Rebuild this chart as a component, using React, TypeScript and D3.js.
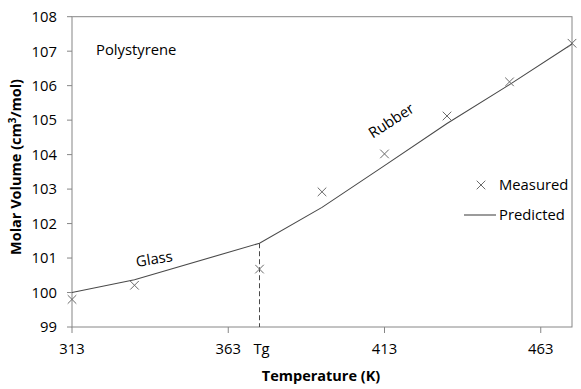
import React from "react";
import * as d3 from "d3";

const measuredT = [313, 333, 373, 393, 413, 433, 453, 473];
const measuredV = [99.8, 100.21, 100.68, 102.92, 104.02, 105.12, 106.11, 107.23];
const predictedT = [313, 333, 373, 393, 413, 433, 453, 473];
const predictedV = [100.0, 100.37, 101.43, 102.47, 103.68, 104.9, 106.03, 107.21];
const xTicks = [313, 363, 413, 463];
const yTicks = [99, 100, 101, 102, 103, 104, 105, 106, 107, 108];
const Tg = 373;
const TgLabel = "Tg";

const W = 581;
const H = 389;
const FONT = "'Open Sans', sans-serif";
const FS = 14.8;
const FSB = 14.5;

export default function App() {
  const x = d3.scaleLinear().domain([313, 473]).range([72, 572]);
  const y = d3.scaleLinear().domain([99, 108]).range([327, 16.7]);
  const [x0, x1] = x.range();
  const [y0, y1] = y.range();
  const axisColor = "#868686";
  const lineColor = "#4a4a4a";
  const markColor = "#6a6a6a";

  const line = d3
    .line<number>()
    .x((_, i) => x(predictedT[i]))
    .y((d) => y(d));
  const tgV = predictedV[predictedT.indexOf(Tg)];

  const cross = (cx: number, cy: number, s = 4.3) =>
    `M${cx - s},${cy - s}L${cx + s},${cy + s}M${cx - s},${cy + s}L${cx + s},${cy - s}`;

  return (
    <svg
      width={W}
      height={H}
      style={{ position: "absolute", left: 0, top: 0, background: "#fff" }}
      fontFamily={FONT}
    >
      <rect x={0} y={0} width={W} height={H} fill="#fff" />
      <rect x={x0} y={y1} width={x1 - x0} height={y0 - y1} fill="none" stroke={axisColor} strokeWidth={1} />
      {yTicks.map((t) => (
        <g key={"y" + t}>
          <line x1={x0 - 5} x2={x0} y1={y(t)} y2={y(t)} stroke={axisColor} />
          <text x={57} y={y(t)} dy="0.36em" textAnchor="end" fontSize={FS} fill="#000">
            {t}
          </text>
        </g>
      ))}
      {xTicks.map((t) => (
        <g key={"x" + t}>
          <line x1={x(t)} x2={x(t)} y1={y0} y2={y0 + 6} stroke={axisColor} />
          <text x={x(t)} y={354} textAnchor="middle" fontSize={FS} fill="#000">
            {t}
          </text>
        </g>
      ))}
      <text x={x(Tg) + 2} y={354} textAnchor="middle" fontSize={FS} fill="#000">
        {TgLabel}
      </text>
      <line
        x1={x(Tg)}
        x2={x(Tg)}
        y1={y(tgV)}
        y2={y0}
        stroke={lineColor}
        strokeWidth={1}
        strokeDasharray="5,3"
      />
      <path d={line(predictedV) || ""} fill="none" stroke={lineColor} strokeWidth={1.1} />
      {measuredV.map((v, i) => (
        <path key={"m" + i} d={cross(x(measuredT[i]), y(v))} stroke={markColor} strokeWidth={1} fill="none" />
      ))}
      <text x={96} y={55} fontSize={FS} fill="#000">
        Polystyrene
      </text>
      <text x={0} y={0} fontSize={FS} fill="#000" textAnchor="middle" transform={`translate(155,264) rotate(-9)`}>
        Glass
      </text>
      <text x={0} y={0} fontSize={FS} fill="#000" textAnchor="middle" transform={`translate(394,125) rotate(-33)`}>
        Rubber
      </text>
      <path d={cross(481, 185, 4.3)} stroke={markColor} strokeWidth={1} fill="none" />
      <text x={499} y={190} fontSize={FS} fill="#000">
        Measured
      </text>
      <line x1={464} x2={496} y1={215} y2={215} stroke={lineColor} strokeWidth={1.1} />
      <text x={499} y={220} fontSize={FS} fill="#000">
        Predicted
      </text>
      <text x={321} y={381} textAnchor="middle" fontSize={FSB} fontWeight="bold" fill="#000">
        Temperature (K)
      </text>
      <text
        x={0}
        y={0}
        textAnchor="middle"
        fontSize={FSB}
        fontWeight="bold"
        fill="#000"
        transform={`translate(21,167) rotate(-90)`}
      >
        Molar Volume (cm<tspan dy={-5} fontSize={10}>3</tspan>
        <tspan dy={5}>/mol)</tspan>
      </text>
    </svg>
  );
}
